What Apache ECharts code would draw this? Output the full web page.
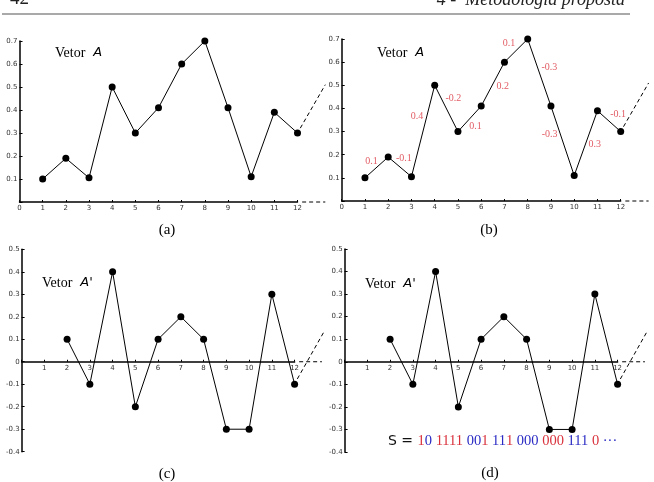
<!DOCTYPE html>
<html>
<head>
<meta charset="utf-8">
<script src="https://cdn.jsdelivr.net/npm/echarts@6/dist/echarts.min.js"></script>
<style>
  html, body { margin: 0; padding: 0; background: #fff; }
  #chart { width: 654px; height: 482px; }
</style>
</head>
<body>
<div id="chart"></div>
<script>
// x positions and the two vectors
const posA = [1, 2, 3, 4, 5, 6, 7, 8, 9, 10, 11, 12]
const vetorA = [0.10, 0.19, 0.105, 0.50, 0.30, 0.41, 0.60, 0.70, 0.41, 0.11, 0.39, 0.30]
const posAp = [2, 3, 4, 5, 6, 7, 8, 9, 10, 11, 12]
const vetorAp = [0.10, -0.10, 0.40, -0.20, 0.10, 0.20, 0.10, -0.30, -0.30, 0.30, -0.10]
const diffLabels = ['0.1', '-0.1', '0.4', '-0.2', '0.1', '0.2', '0.1', '-0.3', '-0.3', '0.3', '-0.1']
const yRangeA = [0, 0.7]
const yRangeAp = [-0.4, 0.5]
const xRange = [0, 12]
// dashed continuation past the last point
const tailX = 13.2
const tailA = 0.51
const tailAp = 0.135
// code string under panel (d)
const codeBits = ['1', '0', '1111', '00', '1', '11', '1', '000', '000', '111', '0', '···']
const codeSpaceBefore = [0, 0, 1, 1, 0, 1, 0, 1, 1, 1, 1, 1]

// label nudges (px) for the red differences in (b)
const diffOffsets = [[-5, -6], [4, -8], [-6, -15], [7, -10], [6, 8], [10, 2], [-7, -7], [10, -5], [-13, -6], [9, 1], [9, -7]]

const RED = '#d9323c'
const BLUE = '#2b2bc4'
const tickFont = { fontFamily: 'DejaVu Sans', fontSize: 7, color: '#333' }

const fmt = (v) => (Math.abs(v) < 1e-9 ? '0' : v.toFixed(1))

const grids = [
  { left: 19.5, top: 41, width: 278, height: 161 },
  { left: 341.7, top: 39, width: 279, height: 162 },
  { left: 21.6, top: 249.3, width: 273, height: 202.4 },
  { left: 344.6, top: 249, width: 273, height: 203 }
]
const yRanges = [yRangeA, yRangeA, yRangeAp, yRangeAp]

const makeX = (i, showZero) => {
  // put the axis (line, ticks, labels) on y = 0
  const r = yRanges[i]
  const zeroOffset = -grids[i].height * (0 - r[0]) / (r[1] - r[0])
  return {
    type: 'value',
    gridIndex: i,
    min: xRange[0],
    max: xRange[1],
    interval: 1,
    offset: zeroOffset,
    splitLine: { show: false },
    axisLine: { onZero: false, lineStyle: { color: '#000', width: 1.5 } },
    axisTick: { inside: true, length: 2, lineStyle: { color: '#000' } },
    axisLabel: Object.assign({ margin: 3, formatter: (v) => (v === 0 && !showZero ? '' : String(v)) }, tickFont)
  }
}

const makeY = (i, hideZero) => ({
  type: 'value',
  gridIndex: i,
  min: yRanges[i][0],
  max: yRanges[i][1],
  interval: 0.1,
  splitLine: { show: false },
  axisLine: { show: true, onZero: false, lineStyle: { color: '#000', width: 1.5 } },
  axisTick: { inside: true, length: 3, lineStyle: { color: '#000' } },
  axisLabel: Object.assign({ margin: 2, formatter: (v) => (hideZero && Math.abs(v) < 1e-9 ? '' : fmt(v)) }, tickFont)
})

const mainLine = (i, xs, ys) => ({
  type: 'line',
  xAxisIndex: i,
  yAxisIndex: i,
  data: xs.map((x, k) => [x, ys[k]]),
  symbol: 'circle',
  symbolSize: 7,
  itemStyle: { color: '#000' },
  lineStyle: { color: '#000', width: 1 },
  z: 3
})

// midpoints of the segments of A, for the difference labels
const diffPoints = posA.slice(0, -1).map((x, k) => ({
  value: [(x + posA[k + 1]) / 2, (vetorA[k] + vetorA[k + 1]) / 2],
  label: { offset: diffOffsets[k] }
}))

const series = [
  mainLine(0, posA, vetorA),
  mainLine(1, posA, vetorA),
  mainLine(2, posAp, vetorAp),
  mainLine(3, posAp, vetorAp),
  {
    type: 'scatter',
    xAxisIndex: 1,
    yAxisIndex: 1,
    symbolSize: 0,
    clip: false,
    data: diffPoints,
    label: {
      show: true,
      position: 'inside',
      formatter: (p) => diffLabels[p.dataIndex],
      color: RED,
      fontFamily: 'Liberation Serif',
      fontSize: 10
    }
  }
]

const vetorTitle = (x, y, sym) => ({
  type: 'text',
  x: x,
  y: y,
  style: {
    text: '{s|Vetor}{i|' + sym + '}',
    verticalAlign: 'middle',
    rich: {
      s: { fontFamily: 'Liberation Serif', fontSize: 14, fill: '#000' },
      i: { fontFamily: 'DejaVu Sans', fontStyle: 'italic', fontSize: 13, fill: '#000', padding: [0, 0, 0, 8] }
    }
  }
})

const caption = (x, y, t) => ({
  type: 'text',
  x: x,
  y: y,
  style: { text: t, fontFamily: 'Liberation Serif', fontSize: 15, fill: '#000', align: 'center', verticalAlign: 'middle' }
})

let codeText = '{k|S = }'
codeBits.forEach((b, k) => {
  if (codeSpaceBefore[k]) codeText += '{sp| }'
  codeText += '{' + (k % 2 === 0 ? 'r' : 'b') + '|' + b + '}'
})

const digitStyle = { fontFamily: 'Liberation Serif', fontSize: 14.5 }

const graphic = [
  {
    type: 'text', x: 10, y: 9,
    style: { text: '42', fontFamily: 'Liberation Serif', fontSize: 19, fill: '#222', verticalAlign: 'bottom' }
  },
  {
    type: 'text', x: 625, y: 9,
    style: { text: '4 -  Metodologia proposta', fontFamily: 'Liberation Serif', fontStyle: 'italic', fontSize: 18, fill: '#222', align: 'right', verticalAlign: 'bottom' }
  },
  {
    type: 'line',
    shape: { x1: 2, y1: 14, x2: 630, y2: 14 },
    style: { stroke: '#555', lineWidth: 1.2 }
  },
  vetorTitle(55, 53, 'A'),
  vetorTitle(377, 53, 'A'),
  vetorTitle(42, 283, "A'"),
  vetorTitle(365, 284, "A'"),
  caption(167, 230, '(a)'),
  caption(489, 230, '(b)'),
  caption(167, 474, '(c)'),
  caption(490, 473, '(d)'),
  {
    type: 'text', x: 388, y: 441,
    style: {
      text: codeText,
      verticalAlign: 'middle',
      rich: {
        k: { fontFamily: 'DejaVu Sans', fontSize: 14, fill: '#111' },
        sp: Object.assign({ fill: '#000' }, digitStyle),
        r: Object.assign({ fill: RED }, digitStyle),
        b: Object.assign({ fill: BLUE }, digitStyle)
      }
    }
  }
]

const chart = echarts.init(document.getElementById('chart'))
chart.setOption({
  animation: false,
  grid: grids,
  xAxis: [makeX(0, true), makeX(1, true), makeX(2, false), makeX(3, false)],
  yAxis: [makeY(0, true), makeY(1, true), makeY(2, false), makeY(3, false)],
  series: series,
  graphic: graphic
})

// dashed continuation beyond x = 12, placed through the grid scales
const dashStyle = { stroke: '#000', lineWidth: 1, lineDash: [4, 3] }
const extra = []
;[0, 1, 2, 3].forEach((i) => {
  const last = i < 2 ? vetorA[vetorA.length - 1] : vetorAp[vetorAp.length - 1]
  const tail = i < 2 ? tailA : tailAp
  const p0 = chart.convertToPixel({ gridIndex: i }, [xRange[1] + 0.12, last + (tail - last) * 0.12 / (tailX - xRange[1])])
  const p1 = chart.convertToPixel({ gridIndex: i }, [tailX + (i < 2 ? 0 : 0.1), tail])
  const h0 = chart.convertToPixel({ gridIndex: i }, [12.2, 0])
  const h1 = chart.convertToPixel({ gridIndex: i }, [tailX, 0])
  extra.push({ type: 'line', shape: { x1: p0[0], y1: p0[1], x2: p1[0], y2: p1[1] }, style: dashStyle })
  extra.push({ type: 'line', shape: { x1: h0[0], y1: h0[1], x2: h1[0], y2: h1[1] }, style: dashStyle })
})
chart.setOption({ graphic: graphic.concat(extra) })
</script>
</body>
</html>
